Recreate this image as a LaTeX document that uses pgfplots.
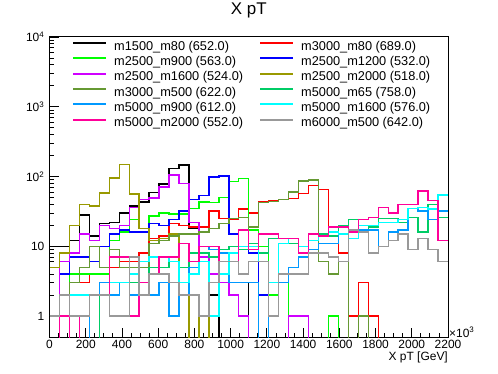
\documentclass[border=0pt]{standalone}
\usepackage{fontspec}
\setmainfont{Liberation Sans}
\usepackage{pgfplots}
\usepackage{pgfplotstable}
\pgfplotsset{compat=1.18}
\definecolor{cBk}{HTML}{000000}
\definecolor{cRd}{HTML}{FF0000}
\definecolor{cGr}{HTML}{00FF00}
\definecolor{cBl}{HTML}{0000FF}
\definecolor{cMg}{HTML}{D000FF}
\definecolor{cOl}{HTML}{999900}
\definecolor{cOg}{HTML}{669933}
\definecolor{cTl}{HTML}{00CC66}
\definecolor{cLb}{HTML}{0099FF}
\definecolor{cCy}{HTML}{00FFFF}
\definecolor{cPk}{HTML}{FF0099}
\definecolor{cGy}{HTML}{999999}

\pgfplotstableread{
x bk rd gr bl mg ol og tl lb cy pk gy
0 10 0 0 0 0 5 0 1 0 0 0 1
55 10 0 0 4 6 8 0 1 0 2 1 2
110 12 3 4 7 8 20 3 1 0 2 0 1
165 28 3 4 7 15 40 5 1 0 2 1 1
220 14 4 4 6 12 38 10 0 2 2 2 2
275 21 4 4 10 20 58 5 2 3 2 2 2
330 22 5 12 15 18 95 9 2 2 3 7 1
385 30 6 16 17 20 150 5 3 3 3 7 1
440 38 6 24 16 36 56 5 3 2 4 1 7
495 43 8 18 16 47 18 5 2 3 6 3 2
550 59 13 27 21 49 12 11 5 2 7 4 4
605 78 14 30 20 71 13 12 5 3 7 7 4
660 130 21 29 24 105 15 14 6 1 6 7 3
715 147 20 29 32 80 5 15 5 2 3 11 2
770 18 19 35 47 22 0 15 8 5 4 6 2
825 6 19 43 53 7 1 16 8 10 6 10 1
880 2 32 42 98 4 0 18 7 9 1 10 3
935 0 25 50 102 3 0 21 9 8 4 6 6
990 0 24 84 15 2 0 25 10 3 8 6 6
1045 0 34 94 10 1 0 26 9 3 10 17 4
1100 3 30 17 8 0 0 19 11 3 10 9 6
1155 0 44 10 2 0 0 42 8 0 6 15 6
1210 0 45 2 0 0 0 44 13 1 3 15 1
1265 0 47 3 0 0 0 47 13 3 11 13 4
1320 0 48 0 1 1 0 60 11 5 13 13 4
1375 0 57 0 1 1 0 86 10 7 10 8 4
1430 0 75 0 0 0 0 89 12 9 12 15 8
1485 0 65 0 0 0 0 6 15 11 14 14 8
1540 0 19 1 0 0 0 4 14 11 16 19 7
1595 0 8 0 0 0 0 6 20 15 15 19 6
1650 0 1 0 0 0 0 0 24 13 13 16 17
1705 0 3 0 0 0 0 1 17 17 20 24 16
1760 0 1 0 0 0 0 0 19 17 20 26 8
1815 0 0 0 0 0 0 0 25 10 22 36 10
1870 0 0 0 0 0 0 0 25 16 22 30 12
1925 0 0 0 0 0 0 0 22 17 24 40 15
1980 0 0 0 0 0 0 0 26 35 35 40 9
2035 0 0 0 0 0 0 0 16 32 36 62 13
2090 0 0 0 0 0 0 0 40 24 34 45 9
2145 0 0 0 0 0 0 0 26 32 54 12 6
2200 0 0 0 0 0 0 0 26 32 54 12 6
}\hdata

\begin{document}
\begin{tikzpicture}
\path[use as bounding box] (0,0) rectangle (498bp,374bp);
\begin{axis}[
  at={(49.5bp,37bp)}, anchor=south west,
  scale only axis, width=398.5bp, height=300bp,
  xmin=0, xmax=2200, ymode=log, ymin=0.5, ymax=10000,
  tick align=inside, tick pos=left,
  major tick length=9bp, minor tick length=4.5bp,
  axis line style={line width=1bp},
  every tick/.style={black, line width=0.8bp},
  xtick={0,200,400,600,800,1000,1200,1400,1600,1800,2000,2200},
  xticklabels={0,200,400,600,800,1000,1200,1400,1600,1800,2000,2200},
  minor x tick num=3,
  ytick={1,10,100,1000,10000},
  yticklabels={1,10,10\textsuperscript{2},10\textsuperscript{3},10\textsuperscript{4}},
  xticklabel style={anchor=base, yshift=-11.3bp, inner sep=0pt, font=\fontsize{12}{12}\selectfont},
  yticklabel style={anchor=east, xshift=-5bp, inner sep=0pt, font=\fontsize{12}{12}\selectfont},
  title={X pT},
  title style={at={(axis description cs:0.5,1)}, anchor=base, yshift=17bp, inner sep=0pt, font=\fontsize{17}{17}\selectfont},
  xlabel={X pT [GeV]},
  xlabel style={at={(axis description cs:1,0)}, anchor=base east, yshift=-23.7bp, inner sep=0pt, font=\fontsize{12}{12}\selectfont},
  legend columns=2,
  legend cell align=left,
  legend style={at={(axis description cs:0.0565,0.9867)}, anchor=north west, draw=none, fill=none, inner sep=0pt,
    font=\fontsize{12.8}{15}\selectfont,
    nodes={inner sep=0pt, text height=9bp, text depth=3bp},
    row sep=3.3bp,
    /tikz/every odd column/.append style={column sep=7bp},
    /tikz/every even column/.append style={column sep=16bp}},
  legend image code/.code={\draw[#1, line width=2bp] plot coordinates {(0bp,4bp) (16.5bp,4bp) (33bp,4bp)};},
  every axis plot/.append style={const plot, line width=1.4bp},
]
\addplot[color=cBk] table[x=x, y expr={max(\thisrow{bk},0.1)}] {\hdata};
\addlegendentry{m1500\_m80 (652.0)}
\addplot[color=cRd] table[x=x, y expr={max(\thisrow{rd},0.1)}] {\hdata};
\addlegendentry{m3000\_m80 (689.0)}
\addplot[color=cGr] table[x=x, y expr={max(\thisrow{gr},0.1)}] {\hdata};
\addlegendentry{m2500\_m900 (563.0)}
\addplot[color=cBl] table[x=x, y expr={max(\thisrow{bl},0.1)}] {\hdata};
\addlegendentry{m2500\_m1200 (532.0)}
\addplot[color=cMg] table[x=x, y expr={max(\thisrow{mg},0.1)}] {\hdata};
\addlegendentry{m2500\_m1600 (524.0)}
\addplot[color=cOl] table[x=x, y expr={max(\thisrow{ol},0.1)}] {\hdata};
\addlegendentry{m2500\_m2000 (518.0)}
\addplot[color=cOg] table[x=x, y expr={max(\thisrow{og},0.1)}] {\hdata};
\addlegendentry{m3000\_m500 (622.0)}
\addplot[color=cTl] table[x=x, y expr={max(\thisrow{tl},0.1)}] {\hdata};
\addlegendentry{m5000\_m65 (758.0)}
\addplot[color=cLb] table[x=x, y expr={max(\thisrow{lb},0.1)}] {\hdata};
\addlegendentry{m5000\_m900 (612.0)}
\addplot[color=cCy] table[x=x, y expr={max(\thisrow{cy},0.1)}] {\hdata};
\addlegendentry{m5000\_m1600 (576.0)}
\addplot[color=cPk] table[x=x, y expr={max(\thisrow{pk},0.1)}] {\hdata};
\addlegendentry{m5000\_m2000 (552.0)}
\addplot[color=cGy] table[x=x, y expr={max(\thisrow{gy},0.1)}] {\hdata};
\addlegendentry{m6000\_m500 (642.0)}
\end{axis}
\node[anchor=base west, inner sep=0pt, font=\fontsize{12}{12}\selectfont] at (449bp,37bp) {×10\textsuperscript{3}};
\end{tikzpicture}
\end{document}
